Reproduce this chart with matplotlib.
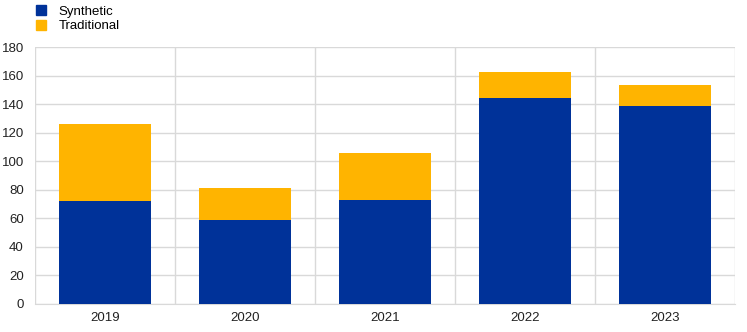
import matplotlib
matplotlib.use("Agg")
import matplotlib.pyplot as plt
import numpy as np
from matplotlib.patches import Patch

# chart data
years = ["2019", "2020", "2021", "2022", "2023"]
synthetic = [72, 58.5, 72.5, 144.5, 139]
traditional = [54, 22.5, 33.5, 18, 14.5]

blue = "#003299"
yellow = "#FFB400"
grid_col = "#d9d9d9"

plt.rcParams["font.family"] = ["Liberation Sans", "DejaVu Sans"]

fig = plt.figure(figsize=(7.47, 3.32), dpi=100)
ax = fig.add_axes([35 / 747, 28 / 332, 700 / 747, 257 / 332])

x = np.arange(len(years))
width = 0.66
ax.bar(x, synthetic, width, color=blue, zorder=3)
ax.bar(x, traditional, width, bottom=synthetic, color=yellow, zorder=3)

ax.set_xlim(-0.5, len(years) - 0.5)
ax.set_ylim(0, 180)
ax.set_yticks(np.arange(0, 181, 20))
ax.set_xticks(x)
ax.set_xticklabels(years)
ax.set_xticks(np.arange(-0.5, len(years), 1), minor=True)

ax.grid(axis="y", color=grid_col, linewidth=1, zorder=0)
ax.grid(axis="x", which="minor", color=grid_col, linewidth=1, zorder=0)
ax.tick_params(which="both", length=0, labelsize=9.5, colors="#222222")
ax.tick_params(axis="x", pad=6)
ax.tick_params(axis="y", pad=8)
for side in ["top", "right", "left"]:
    ax.spines[side].set_visible(False)
ax.spines["bottom"].set_color(grid_col)

# legend above the plot
handles = [Patch(color=blue, label="Synthetic"), Patch(color=yellow, label="Traditional")]
fig.legend(handles=handles, loc="upper left", bbox_to_anchor=(24 / 747, 1.02),
           frameon=False, fontsize=9.5, handlelength=0.8, handleheight=0.8,
           handletextpad=0.9, labelspacing=0.15)

fig.savefig("out.png", dpi=100)
